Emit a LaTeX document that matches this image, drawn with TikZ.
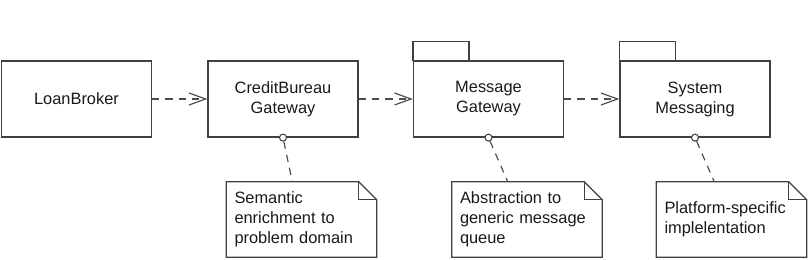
\documentclass[tikz,border=0pt]{standalone}
\usepackage{fontspec}
\setmainfont{Liberation Sans}
\usetikzlibrary{arrows.meta, calc, positioning}

\begin{document}
\begin{tikzpicture}[x=0.3mm,y=0.3mm,
    font=\fontsize{14}{17.07}\selectfont,
    umlline/.style={draw=black!75,line width=1.1pt},
    umlbox/.style={umlline,text=black!90,align=center,inner sep=0pt,
                   minimum width=45mm,minimum height=22.8mm},
    notebox/.style={text=black!90,align=left,inner xsep=2.4mm,inner ysep=0pt,
                    text width=40.2mm,minimum height=22.5mm},
    lolly/.style={circle,draw=black!75,line width=0.9pt,fill=white,
                  inner sep=0pt,minimum size=2.1mm},
    dep/.style={draw=black!70,line width=1pt,dash pattern=on 2.2mm off 1.8mm,
                -{Straight Barb[length=5mm,width=3.6mm,line width=1pt]}},
    notelink/.style={draw=black!70,line width=1pt,dash pattern=on 2.2mm off 1.8mm}]
\useasboundingbox (0,0) rectangle (809,259);

% components and packages
\node[umlbox] (broker) at (76.5,160) {LoanBroker};
\node[umlbox] (credit) at (283,160) {CreditBureau\\Gateway};
\node[umlbox] (msg)    at (488.5,160) {Message\\Gateway};
\node[umlbox] (sys)    at (695,160) {System\\Messaging};
\foreach \pkg in {msg,sys}{
    \draw[umlline] (\pkg.north west) rectangle ($(\pkg.north west)+(56,19)$);
}

% dependencies
\draw[dep] (broker) -- (credit);
\draw[dep] (credit) -- (msg);
\draw[dep] (msg) -- (sys);

% notes
\node[notebox] (creditnote) at (301.5,39.5) {Semantic\\enrichment to\\problem domain};
\node[notebox] (msgnote)    at (527,39.5)   {Abstraction to\\generic message\\queue};
\node[notebox] (sysnote)    at (731.5,39.5) {Platform-specific\\implelentation};
\foreach \n in {creditnote,msgnote,sysnote}{
    \draw[umlline,line join=miter] (\n.north west) -- ($(\n.north east)+(-18,0)$)
        -- ($(\n.north east)+(0,-18)$) -- (\n.south east) -- (\n.south west) -- cycle;
    \draw[umlline,line width=0.8pt] ($(\n.north east)+(-18,0)$) |- ($(\n.north east)+(0,-18)$);
}

% note anchors
\foreach \comp/\note/\dx in {credit/creditnote/66, msg/msgnote/56, sys/sysnote/58}{
    \node[lolly] (\comp port) at (\comp.south) {};
    \draw[notelink] (\comp port) -- ($(\note.north west)+(\dx,0)$);
}
\end{tikzpicture}
\end{document}
